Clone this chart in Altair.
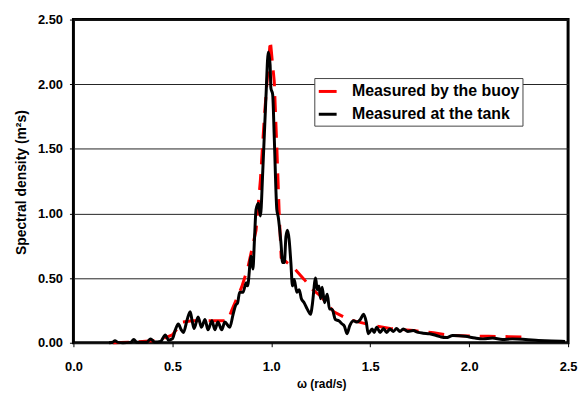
import altair as alt
import pandas as pd

# Measured by the buoy (red dashed)
buoy_w = [0.20, 0.30, 0.40, 0.45, 0.50, 0.55, 0.60, 0.70, 0.78, 0.80, 0.85, 0.88, 0.923, 0.945,
          0.966, 0.995, 1.015, 1.028, 1.04, 1.05, 1.08, 1.107, 1.166, 1.21, 1.25, 1.316, 1.39,
          1.48, 1.53, 1.60, 1.72, 1.82, 1.90, 2.00, 2.10, 2.20, 2.28]
buoy_s = [0.0, 0.005, 0.015, 0.03, 0.06, 0.16, 0.17, 0.17, 0.17, 0.25, 0.43, 0.57, 0.87, 1.26,
          1.77, 2.34, 2.02, 1.51, 1.0, 0.66, 0.62, 0.59, 0.49, 0.41, 0.36, 0.24, 0.18,
          0.146, 0.13, 0.11, 0.094, 0.077, 0.058, 0.052, 0.05, 0.047, 0.045]

# Measured at the tank (black)
tank_w = [0.18, 0.20, 0.21, 0.225, 0.25, 0.29, 0.305, 0.32, 0.37, 0.39, 0.41, 0.44, 0.465, 0.48,
          0.50, 0.515, 0.53, 0.545, 0.556, 0.575, 0.59, 0.60, 0.61, 0.63, 0.647, 0.665, 0.68,
          0.70, 0.715, 0.73, 0.75, 0.765, 0.79, 0.807, 0.82, 0.83, 0.84, 0.857, 0.873, 0.88,
          0.898, 0.907, 0.915, 0.923, 0.935, 0.945, 0.957, 0.973, 0.985, 0.994, 0.998, 1.007,
          1.015, 1.028, 1.035, 1.049, 1.057, 1.066, 1.074, 1.082, 1.09, 1.099, 1.107, 1.116,
          1.129, 1.141, 1.152, 1.166, 1.182, 1.199, 1.207, 1.224, 1.232, 1.241, 1.249, 1.257,
          1.269, 1.283, 1.294, 1.307, 1.324, 1.341, 1.358, 1.369, 1.383, 1.396, 1.416, 1.433,
          1.45, 1.466, 1.48, 1.49, 1.51, 1.52, 1.533, 1.55, 1.567, 1.583, 1.60, 1.617, 1.633,
          1.65, 1.667, 1.69, 1.717, 1.742, 1.767, 1.80, 1.834, 1.859, 1.884, 1.917, 1.98, 2.03,
          2.07, 2.118, 2.168, 2.218, 2.285, 2.35, 2.418, 2.485]
tank_s = [0.0, 0.005, 0.015, 0.003, 0.0, 0.003, 0.025, 0.003, 0.003, 0.03, 0.005, 0.01, 0.06, 0.02,
          0.03, 0.10, 0.145, 0.10, 0.08, 0.18, 0.24, 0.17, 0.11, 0.20, 0.12, 0.18, 0.10,
          0.17, 0.10, 0.16, 0.10, 0.16, 0.12, 0.22, 0.29, 0.31, 0.39, 0.39, 0.465, 0.44,
          0.67, 0.57, 0.80, 1.03, 1.08, 0.98, 1.33, 1.90, 2.25, 2.15, 1.97, 1.92,
          1.59, 1.03, 0.975, 0.77, 0.62, 0.62, 0.82, 0.87, 0.80, 0.62, 0.44, 0.49,
          0.39, 0.41, 0.34, 0.31, 0.26, 0.22, 0.29, 0.50, 0.41, 0.44, 0.34, 0.43,
          0.31, 0.375, 0.26, 0.26, 0.18, 0.17, 0.145, 0.13, 0.07, 0.13, 0.17, 0.16,
          0.18, 0.22, 0.16, 0.07, 0.107, 0.08, 0.12, 0.08, 0.11, 0.08, 0.107, 0.087, 0.11,
          0.087, 0.107, 0.087, 0.094, 0.08, 0.074, 0.07, 0.056, 0.044, 0.04, 0.056, 0.05, 0.036,
          0.03, 0.036, 0.025, 0.03, 0.025, 0.018, 0.013, 0.01]

series_names = ["Measured by the buoy", "Measured at the tank"]
series_colors = ["#ff0000", "#000000"]
x_ticks = [0.0, 0.5, 1.0, 1.5, 2.0, 2.5]
y_ticks = [0.0, 0.5, 1.0, 1.5, 2.0, 2.5]

buoy = pd.DataFrame({"w": buoy_w, "s": buoy_s, "series": series_names[0]})
tank = pd.DataFrame({"w": tank_w, "s": tank_s, "series": series_names[1]})

FONT = "Liberation Sans"

x_enc = alt.X("w:Q", scale=alt.Scale(domain=[0, 2.5], nice=False),
              axis=alt.Axis(values=x_ticks, format=".1f", title="ω (rad/s)", grid=False,
                            domain=False, tickSize=4, tickColor="black", tickWidth=1,
                            labelPadding=14, labelFlush=False, titleX=250, titleY=45,
                            titleBaseline="alphabetic", titleFontSize=12))
y_enc = alt.Y("s:Q", scale=alt.Scale(domain=[0, 2.5], nice=False),
              axis=alt.Axis(values=y_ticks, format=".2f", title="Spectral density (m²s)",
                            grid=True, gridColor="#222222", gridWidth=1, domain=False,
                            tickSize=4, tickColor="black", tickWidth=1, labelPadding=7,
                            labelFlush=False, titleX=-52, titleY=164, titleBaseline="middle",
                            titleAngle=-90, titleFontSize=14))
color_enc = alt.Color("series:N",
                      scale=alt.Scale(domain=series_names, range=series_colors),
                      legend=alt.Legend(title=None, orient="none", legendX=243, legendY=59,
                                        symbolType="stroke", symbolStrokeWidth=3,
                                        symbolSize=324, labelFontSize=16, labelFont=FONT,
                                        labelFontWeight="bold", labelColor="black",
                                        padding=3, labelOffset=14, rowPadding=4,
                                        fillColor="white", strokeColor="#444444",
                                        labelLimit=400))

red = alt.Chart(buoy).mark_line(strokeWidth=3, strokeDash=[16, 10], strokeCap="butt").encode(
    x=x_enc, y=y_enc, color=color_enc)
black = alt.Chart(tank).mark_line(strokeWidth=3, interpolate="monotone").encode(
    x=x_enc, y=y_enc, color=color_enc)

chart = alt.layer(red, black).properties(
    width=499, height=326,
    autosize=alt.AutoSizeParams(type="none"),
    padding={"left": 66, "top": 10, "right": 10, "bottom": 47},
    background="white",
).configure_view(stroke="black", strokeWidth=3).configure_axis(
    labelFont=FONT, labelFontWeight="bold", labelFontSize=13, labelColor="black",
    titleFont=FONT, titleFontWeight="bold", titleFontSize=13, titleColor="black",
)

chart.save("out.html", embed_options={"renderer": "svg", "actions": False})
